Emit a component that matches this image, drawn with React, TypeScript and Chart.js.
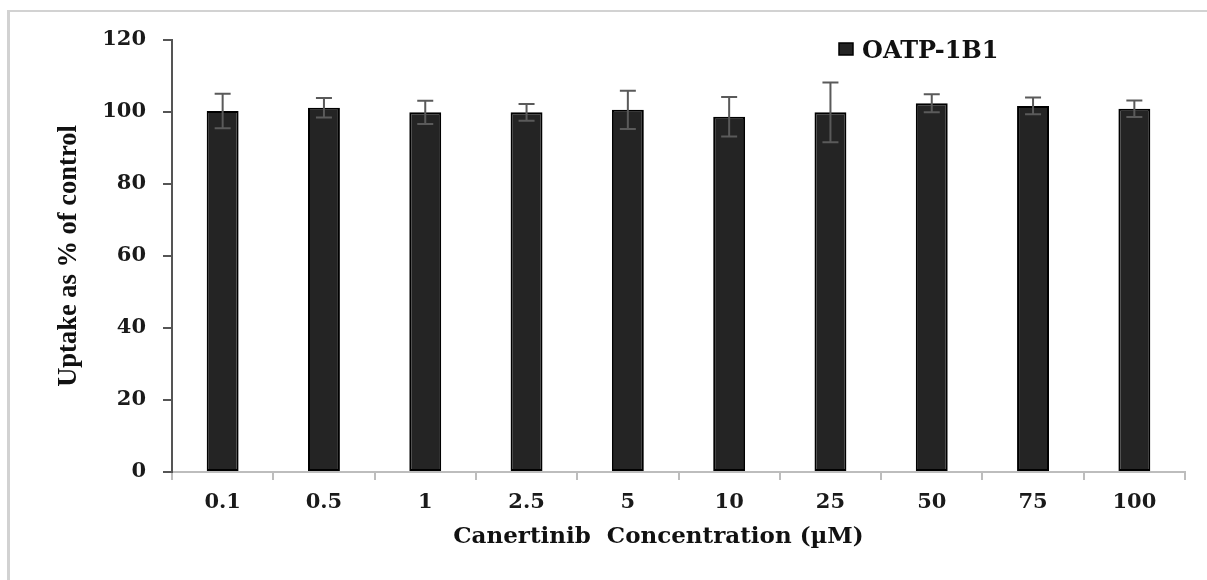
import { useEffect, useRef } from "react";
import { Chart, registerables } from "chart.js";

Chart.register(...registerables);

// Canertinib concentrations (µM) on the category axis
const concentrations = ["0.1", "0.5", "1", "2.5", "5", "10", "25", "50", "75", "100"];
// Mean uptake (% of control) and its error (±)
const uptake = [100.3, 101.2, 99.9, 99.9, 100.6, 98.7, 99.9, 102.4, 101.7, 100.9];
const uptakeError = [4.8, 2.7, 3.2, 2.3, 5.3, 5.5, 8.3, 2.5, 2.3, 2.3];
const yTickValues = [0, 20, 40, 60, 80, 100, 120];

const seriesLabel = "OATP-1B1";
const xTitle = "Canertinib  Concentration (\u00b5M)     ";
const yTitle = "Uptake as % of control";

const WIDE_SERIF = '"DejaVu Serif", serif';
const TIMES_SERIF = '"Liberation Serif", "Times New Roman", serif';
const BAR_FILL = "#242424";

// Symmetric error bars drawn over each bar from the error array
const errorBarsPlugin = {
  id: "errorBars",
  afterDatasetsDraw(chart: any) {
    const { ctx, scales } = chart;
    const xs = scales.x;
    const ys = scales.y;
    const values = chart.data.datasets[0].data as number[];
    ctx.save();
    ctx.strokeStyle = "#5a5a5a";
    ctx.lineWidth = 2;
    values.forEach((v, i) => {
      const e = uptakeError[i];
      const px = xs.getPixelForValue(i);
      const top = ys.getPixelForValue(v + e);
      const bot = ys.getPixelForValue(v - e);
      ctx.beginPath();
      ctx.moveTo(px, top);
      ctx.lineTo(px, bot);
      ctx.moveTo(px - 8, top);
      ctx.lineTo(px + 8, top);
      ctx.moveTo(px - 8, bot);
      ctx.lineTo(px + 8, bot);
      ctx.stroke();
    });
    ctx.restore();
  },
};

// Single-entry legend in the upper right of the plot
const legendPlugin = {
  id: "boxLegend",
  afterDraw(chart: any) {
    const { ctx, chartArea } = chart;
    const ds = chart.data.datasets[0];
    const x0 = chartArea.right - 346;
    ctx.save();
    ctx.fillStyle = ds.backgroundColor;
    ctx.fillRect(x0, 43, 14, 12);
    ctx.strokeStyle = "#000";
    ctx.lineWidth = 1.5;
    ctx.strokeRect(x0, 43, 14, 12);
    ctx.fillStyle = "#111";
    ctx.font = `bold 24px ${WIDE_SERIF}`;
    ctx.textBaseline = "alphabetic";
    ctx.textAlign = "left";
    ctx.fillText(ds.label, x0 + 23, 58);
    ctx.restore();
  },
};

export default function App() {
  const canvasRef = useRef<HTMLCanvasElement | null>(null);

  useEffect(() => {
    if (!canvasRef.current) return;
    const chart = new Chart(canvasRef.current, {
      type: "bar",
      data: {
        labels: concentrations,
        datasets: [
          {
            label: seriesLabel,
            data: uptake,
            backgroundColor: BAR_FILL,
            borderColor: "#000",
            borderWidth: 2,
            borderSkipped: false,
            barPercentage: 0.315,
            categoryPercentage: 1,
          },
        ],
      },
      options: {
        responsive: false,
        animation: false,
        devicePixelRatio: 1,
        layout: { padding: { left: 0, right: 22, top: 40, bottom: 0 } },
        plugins: {
          legend: { display: false },
          tooltip: { enabled: false },
        },
        scales: {
          x: {
            offset: true,
            afterFit(scale: any) {
              scale.height = 108;
            },
            border: { display: true, color: "#bdbdbd", width: 2 },
            grid: {
              display: true,
              drawOnChartArea: false,
              drawTicks: true,
              tickLength: 8,
              color: "#bdbdbd",
              lineWidth: 2,
              offset: true,
            },
            ticks: {
              color: "#1a1a1a",
              padding: 10,
              font: { family: WIDE_SERIF, weight: "bold", size: 21 },
              maxRotation: 0,
            },
            title: {
              display: true,
              text: xTitle,
              color: "#111",
              font: { family: WIDE_SERIF, weight: "bold", size: 23 },
              padding: { top: 0, bottom: 29 },
            },
          },
          y: {
            min: 0,
            max: 120,
            afterFit(scale: any) {
              scale.width = 172;
            },
            afterBuildTicks(scale: any) {
              scale.ticks = yTickValues.map((v) => ({ value: v }));
            },
            border: { display: true, color: "#555", width: 2 },
            grid: {
              display: true,
              drawOnChartArea: false,
              drawTicks: true,
              tickLength: 9,
              color: "#555",
              lineWidth: 2,
            },
            ticks: {
              color: "#1a1a1a",
              padding: 17,
              font: { family: WIDE_SERIF, weight: "bold", size: 21 },
            },
            title: {
              display: true,
              text: yTitle,
              color: "#111",
              font: { family: TIMES_SERIF, weight: "bold", size: 26.5 },
              padding: { top: 53, bottom: 0 },
            },
          },
        },
      },
      plugins: [errorBarsPlugin, legendPlugin],
    } as any);
    return () => chart.destroy();
  }, []);

  return (
    <div style={{ position: "absolute", left: 0, top: 0, width: 1207, height: 580, background: "#fff", overflow: "hidden" }}>
      <div
        style={{
          position: "absolute",
          left: 7,
          top: 10,
          width: 1300,
          height: 700,
          borderLeft: "3px solid #d2d2d2",
          borderTop: "2px solid #d2d2d2",
        }}
      />
      <canvas
        ref={canvasRef}
        width={1207}
        height={580}
        style={{ position: "absolute", left: 0, top: 0, width: 1207, height: 580 }}
      />
    </div>
  );
}
